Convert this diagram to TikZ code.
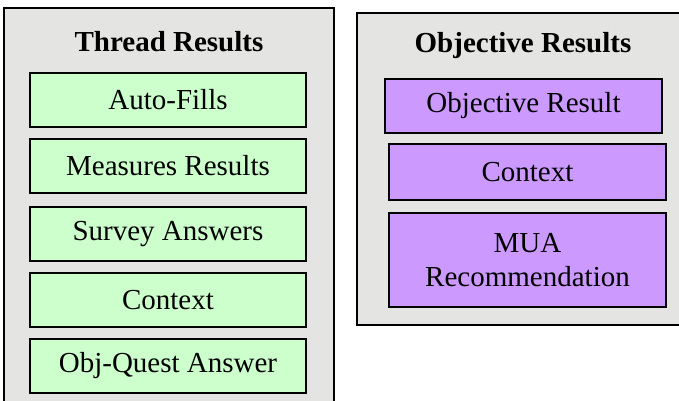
\documentclass[tikz,border=0pt]{standalone}
\usepackage{fontspec}
\setmainfont{Liberation Serif}
\definecolor{marble}{HTML}{E4E4E2}
\definecolor{mint}{HTML}{CCFFCC}
\definecolor{lilac}{HTML}{CC99FF}
\tikzset{
  container/.style={draw=black, line width=2pt, fill=marble},
  greenbox/.style={draw=black, line width=2pt, fill=mint, minimum width=276pt, minimum height=54pt, inner sep=0pt,
    font=\fontsize{29}{34}\selectfont, align=center},
  purplebox/.style={draw=black, line width=2pt, fill=lilac, minimum width=277pt, inner sep=0pt,
    font=\fontsize{29}{34}\selectfont, align=center},
  title/.style={font=\fontsize{29}{34}\selectfont\bfseries, inner sep=0pt},
}
\begin{document}
\begin{tikzpicture}[x=1pt,y=-1pt]
\useasboundingbox (0,0) rectangle (679,400);
\clip (0,0) rectangle (679,400);
\fill[white] (0,0) rectangle (679,400);
% containers
\draw[container] (4,8) rectangle (334,410);
\draw[container] (357,13) rectangle (690,325);
% left titles and boxes
\node[title] (tt) at (169,42) {Thread Results};
\node[greenbox] (af) at (168,100) {Auto-Fills};
\node[greenbox] (mr) at (168,166) {Measures Results};
\node[greenbox] (sa) at (168,234) {Survey Answers};
\node[greenbox] (cx) at (168,300) {Context};
\node[greenbox] (oq) at (168,366) {Obj-Quest Answer};
% right
\node[title] (ot) at (523,46) {Objective Results};
\node[purplebox, minimum height=54pt] (or) at (523.5,106) {Objective Result};
\node[purplebox, minimum height=56pt] (oc) at (527.5,172) {Context};
\node[purplebox, minimum height=94pt] (mu) at (527.5,260) {MUA\\Recommendation};
\end{tikzpicture}
\end{document}
